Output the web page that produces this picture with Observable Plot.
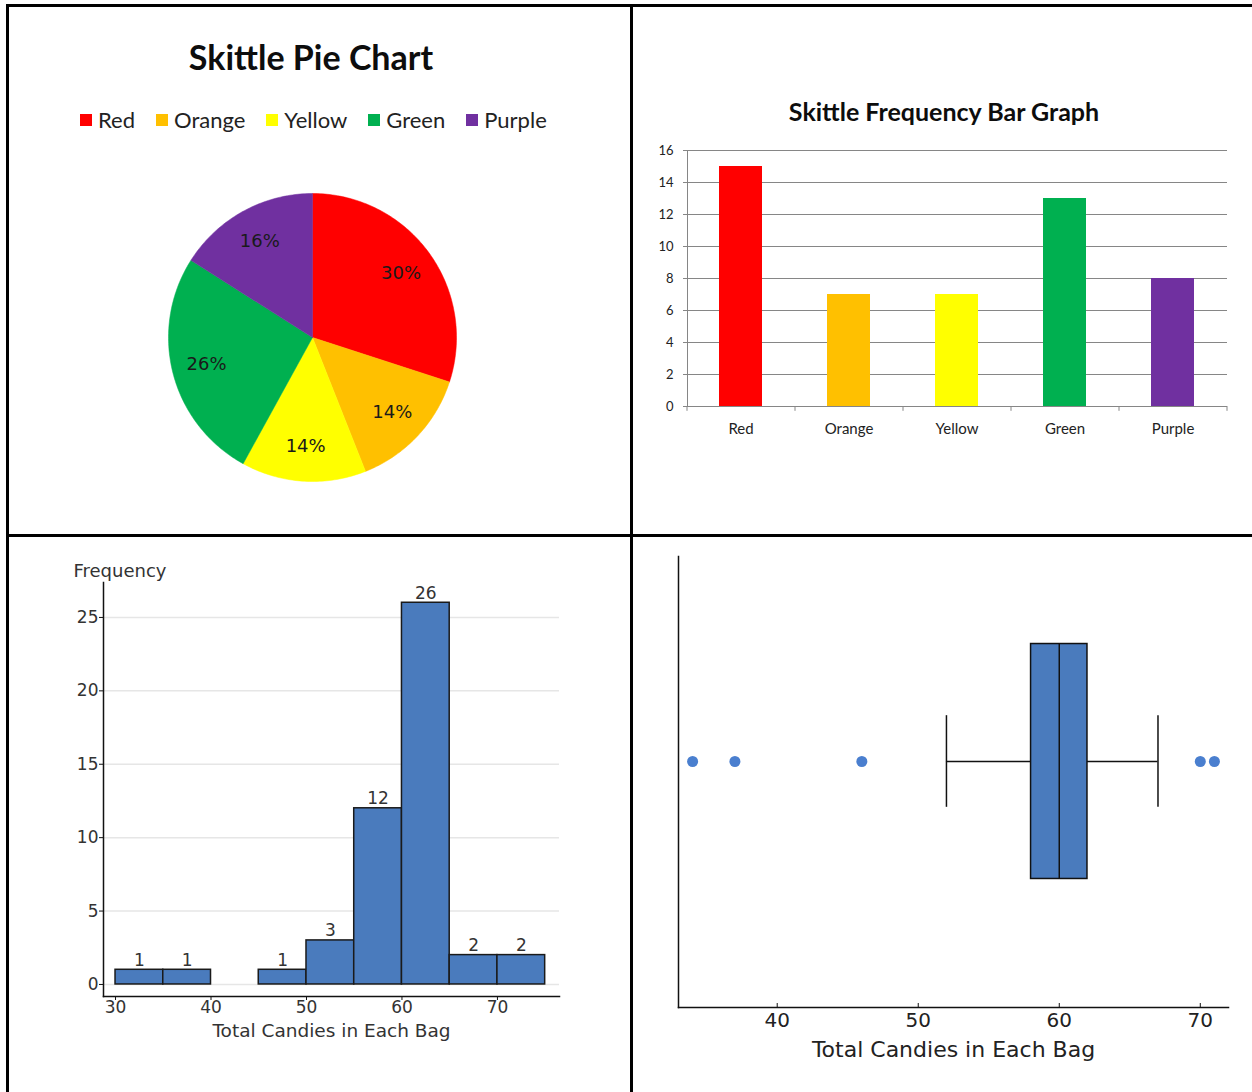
<!DOCTYPE html>
<html><head><meta charset="utf-8">
<script src="https://cdn.jsdelivr.net/npm/d3@7"></script>
<script src="https://cdn.jsdelivr.net/npm/@observablehq/plot@0.6"></script>
<style>
html,body{margin:0;padding:0;background:#fff;}
#page{position:relative;width:1252px;height:1092px;overflow:hidden;background:#fff;}
.abs{position:absolute;}
.rule{position:absolute;background:#000;}
.title{position:absolute;font-family:Lato,"Liberation Sans",sans-serif;font-weight:bold;color:#0d0d0d;text-align:center;line-height:1;white-space:nowrap;}
#legend{position:absolute;display:flex;align-items:center;font-family:Lato,"Liberation Sans",sans-serif;font-size:22px;line-height:1;color:#222;}
#legend .item{display:flex;align-items:center;margin-right:21px;}
#legend .sw{width:12px;height:12px;margin-right:6px;}
</style></head>
<body>
<div id="page">
  <div class="rule" style="left:6px;top:4px;width:1246px;height:3px"></div>
  <div class="rule" style="left:6px;top:4px;width:3px;height:1088px"></div>
  <div class="rule" style="left:630px;top:4px;width:3px;height:1088px"></div>
  <div class="rule" style="left:6px;top:534px;width:1246px;height:3px"></div>
  <div class="title" id="pieTitle" style="left:0px;width:622px;top:40px;font-size:34px">Skittle Pie Chart</div>
  <div id="legend" style="left:80px;top:109px;height:22px"></div>
  <div class="abs" id="pie" style="left:162px;top:187px"></div>
  <div class="title" id="barTitle" style="left:644px;width:600px;top:99px;font-size:25px">Skittle Frequency Bar Graph</div>
  <div class="abs" id="bar" style="left:640px;top:140px"></div>
  <div class="abs" id="hist" style="left:10px;top:545px"></div>
  <div class="abs" id="box" style="left:640px;top:545px"></div>
</div>
<script>
// ---------- data ----------
const colorNames = ["Red", "Orange", "Yellow", "Green", "Purple"];
const colorCounts = [15, 7, 7, 13, 8];
const colorFills = ["#FF0000", "#FFC000", "#FFFF00", "#00B050", "#7030A0"];
const barYTicks = [0, 2, 4, 6, 8, 10, 12, 14, 16];

const binStarts = [30, 35, 40, 45, 50, 55, 60, 65, 70];
const binCounts = [1, 1, 0, 1, 3, 12, 26, 2, 2];
const binWidth = 5;
const histXTicks = [30, 40, 50, 60, 70];
const histYTicks = [0, 5, 10, 15, 20, 25];

const boxQuartiles = [58, 60, 62];   // Q1, median, Q3
const boxWhiskers = [52, 67];
const boxOutliers = [34, 37, 46, 70, 71];
const boxXTicks = [40, 50, 60, 70];
const xTitle = "Total Candies in Each Bag";

// ---------- legend ----------
const legend = document.getElementById("legend");
colorNames.forEach((n, i) => {
  const it = document.createElement("div"); it.className = "item";
  const sw = document.createElement("div"); sw.className = "sw"; sw.style.background = colorFills[i];
  const tx = document.createElement("span"); tx.textContent = n;
  it.appendChild(sw); it.appendChild(tx); legend.appendChild(it);
});

// ---------- pie ----------
const total = d3.sum(colorCounts);
const arcs = d3.pie().sort(null).value(d => d)(colorCounts);
const piePts = [];
arcs.forEach((a, i) => {
  const name = colorNames[i];
  piePts.push({name, px: 0, py: 0});
  const n = Math.max(2, Math.ceil((a.endAngle - a.startAngle) / (Math.PI / 180)));
  for (let k = 0; k <= n; k++) {
    const t = a.startAngle + (a.endAngle - a.startAngle) * k / n;
    piePts.push({name, px: Math.sin(t), py: Math.cos(t)});
  }
  piePts.push({name, px: 0, py: 0});
});
const pieLabels = arcs.map((a, i) => {
  const m = (a.startAngle + a.endAngle) / 2;
  return {lx: 0.76 * Math.sin(m), ly: 0.76 * Math.cos(m), text: Math.round(100 * a.value / total) + "%"};
});
const colorScale = {type: "ordinal", domain: colorNames, range: colorFills};
document.getElementById("pie").appendChild(Plot.plot({
  width: 300, height: 300, margin: 6,
  style: {background: "transparent"},
  x: {domain: [-1, 1], axis: null},
  y: {domain: [-1, 1], axis: null},
  color: colorScale,
  marks: [
    Plot.line(piePts, {x: "px", y: "py", z: "name", fill: {value: "name", scale: "color"}, stroke: {value: "name", scale: "color"}, strokeWidth: 0.5}),
    Plot.text(pieLabels, {x: "lx", y: "ly", text: "text", fontSize: 18, fontFamily: "DejaVu Sans", fill: "#1a1a1a"})
  ]
}));

// ---------- bar ----------
const barW = 600, barML = 47, barMR = 13;
const barStep = (barW - barML - barMR) / colorNames.length;
const barRows = colorNames.map((n, i) => ({name: n, count: colorCounts[i]}));
document.getElementById("bar").appendChild(Plot.plot({
  width: barW, height: 310, marginLeft: barML, marginRight: barMR, marginTop: 10, marginBottom: 44,
  style: {background: "transparent", fontFamily: "Lato, 'Liberation Sans', sans-serif", color: "#222"},
  x: {domain: colorNames, paddingInner: 0.6, paddingOuter: 0.3},
  y: {domain: [0, 16]},
  color: colorScale,
  marks: [
    Plot.gridY(barYTicks, {stroke: "#868686", strokeOpacity: 1}),
    Plot.frame({anchor: "left", stroke: "#868686"}),
    Plot.ruleY([0], {stroke: "#868686"}),
    Plot.ruleX(colorNames, {x: d => d, y1: 0, y2: -0.3, dx: -barStep / 2, stroke: "#868686"}),
    Plot.ruleX(colorNames.slice(-1), {x: d => d, y1: 0, y2: -0.3, dx: barStep / 2, stroke: "#868686"}),
    Plot.barY(barRows, {x: "name", y: "count", fill: {value: "name", scale: "color"}}),
    Plot.axisY(barYTicks, {tickSize: 4, tickPadding: 10, stroke: "#868686", fill: "#222", fontSize: 13, label: null}),
    Plot.axisX({tickSize: 0, tickPadding: 17, fill: "#222", fontSize: 15, label: null})
  ]
}));

// ---------- histogram ----------
const histRows = binStarts.map((s, i) => ({x0: s, x1: s + binWidth, count: binCounts[i]})).filter(d => d.count > 0);
document.getElementById("hist").appendChild(Plot.plot({
  width: 615, height: 500, marginLeft: 93, marginRight: 66, marginTop: 37, marginBottom: 49,
  style: {background: "transparent", fontFamily: "'DejaVu Sans', sans-serif", color: "#333"},
  x: {domain: [28.74, 76.5]},
  y: {domain: [-0.82, 27.38]},
  marks: [
    Plot.gridY(histYTicks, {stroke: "#e6e6e6", strokeOpacity: 1, strokeWidth: 1.5}),
    Plot.rect(histRows, {x1: "x0", x2: "x1", y1: 0, y2: "count", fill: "#4A7BBD", stroke: "#1a1a1a", strokeWidth: 1.5}),
    Plot.text(histRows, {x: d => (d.x0 + d.x1) / 2, y: "count", text: d => String(d.count), dy: -4, lineAnchor: "bottom", fontSize: 17, fill: "#333"}),
    Plot.axisY(histYTicks, {tickSize: 4, tickPadding: 1, stroke: "#111", fill: "#333", fontSize: 17, label: null}),
    Plot.axisX(histXTicks, {tickSize: 4, tickPadding: 0, stroke: "#111", fill: "#333", fontSize: 17, label: null}),
    Plot.frame({anchor: "left", stroke: "#111", strokeWidth: 1.5}),
    Plot.frame({anchor: "bottom", stroke: "#111", strokeWidth: 1.5}),
    Plot.text(["Frequency"], {frameAnchor: "top-left", text: d => d, dx: -30, dy: -6, textAnchor: "start", lineAnchor: "bottom", fontSize: 18, fill: "#333"}),
    Plot.text([xTitle], {frameAnchor: "bottom", text: d => d, dy: 40, lineAnchor: "bottom", fontSize: 18.5, fill: "#333"})
  ]
}));

// ---------- box plot ----------
const [q1, med, q3] = boxQuartiles;
const boxYDomain = [-2.094, 1.745];
document.getElementById("box").appendChild(Plot.plot({
  width: 600, height: 540, marginLeft: 38, marginRight: 12, marginTop: 11, marginBottom: 78,
  style: {background: "transparent", fontFamily: "'DejaVu Sans', sans-serif", color: "#222"},
  x: {domain: [33, 72]},
  y: {domain: boxYDomain, axis: null},
  marks: [
    Plot.ruleY([0], {x1: boxWhiskers[0], x2: q1, stroke: "#111", strokeWidth: 1.5}),
    Plot.ruleY([0], {x1: q3, x2: boxWhiskers[1], stroke: "#111", strokeWidth: 1.5}),
    Plot.ruleX(boxWhiskers, {x: d => d, y1: -0.39, y2: 0.39, stroke: "#111", strokeWidth: 1.5}),
    Plot.rect([boxQuartiles], {x1: d => d[0], x2: d => d[2], y1: -1, y2: 1, fill: "#4A7BBD", stroke: "#111", strokeWidth: 1.5}),
    Plot.ruleX([med], {x: d => d, y1: -1, y2: 1, stroke: "#111", strokeWidth: 1.5}),
    Plot.dot(boxOutliers, {x: d => d, y: 0, r: 5.5, fill: "#4A7FCF", stroke: "none"}),
    Plot.ruleX(boxXTicks, {x: d => d, y1: boxYDomain[0], y2: boxYDomain[0], insetTop: -4, stroke: "#111"}),
    Plot.axisX(boxXTicks, {tickSize: 0, tickPadding: 5, fill: "#222", fontSize: 20, label: null}),
    Plot.frame({anchor: "left", stroke: "#111", strokeWidth: 1.5}),
    Plot.frame({anchor: "bottom", stroke: "#111", strokeWidth: 1.5}),
    Plot.text([xTitle], {frameAnchor: "bottom", text: d => d, dy: 49, lineAnchor: "bottom", fontSize: 22, fill: "#222"})
  ]
}));
</script>
</body></html>
